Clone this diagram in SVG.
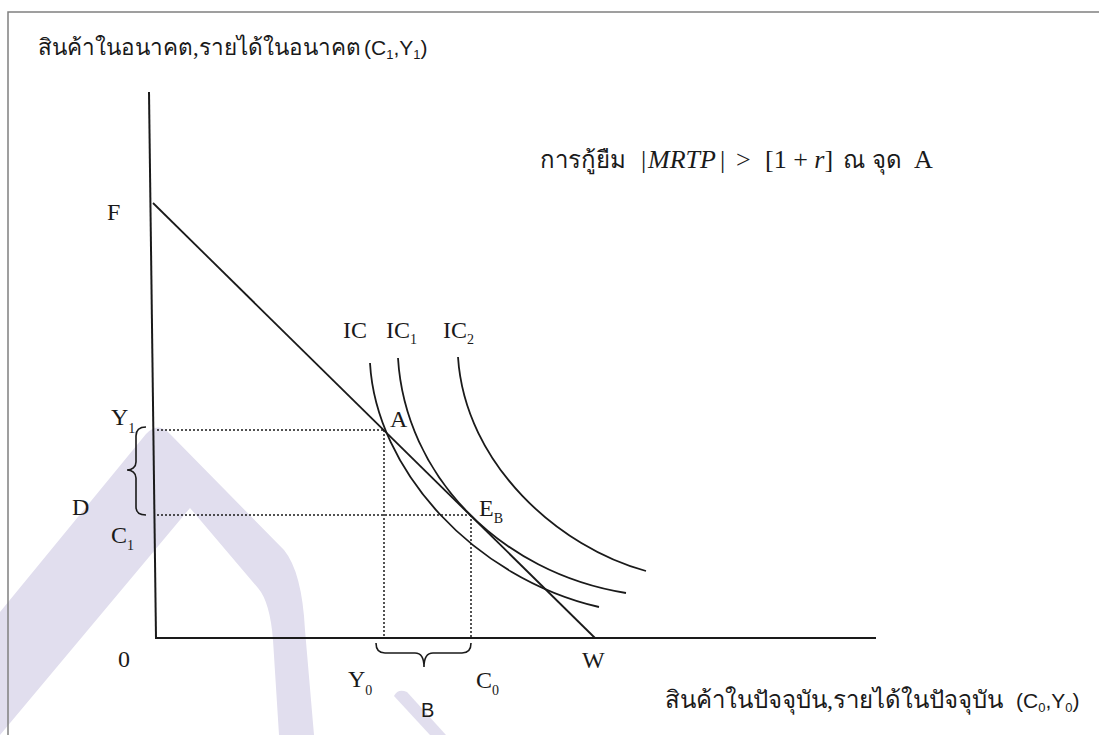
<svg xmlns="http://www.w3.org/2000/svg" width="1099" height="735" viewBox="0 0 1099 735">
<style>
.ser{font-family:"Liberation Serif",serif;font-size:24px;fill:#1a1a1a}
.sub{font-size:14px}
.th{font-family:"Liberation Serif","Noto Sans",serif;font-size:24px;fill:#1a1a1a}
.th2{font-family:"Liberation Serif","Noto Sans",serif;font-size:22.5px;fill:#1a1a1a}
.math{font-family:"Liberation Serif",serif;font-size:26px;fill:#1a1a1a}
.sans{font-family:"Liberation Sans",sans-serif;font-size:21px;fill:#1a1a1a}
.sansB{font-family:"Liberation Sans",sans-serif;font-size:20px;fill:#1a1a1a}
.ax{stroke:#1a1a1a;stroke-width:2;fill:none}
.ln{stroke:#1a1a1a;stroke-width:1.8;fill:none}
.dot{stroke:#1a1a1a;stroke-width:1.5;stroke-dasharray:2 2;fill:none}
.br{stroke:#1a1a1a;stroke-width:1.6;fill:none}
.wm{fill:#e1deee}
</style>
<rect width="1099" height="735" fill="#ffffff"/>
<g id="watermark">
<path class="wm" d="M0,612 L146,434 Q158,421 170,434 L284,550 Q302,572 305,630 L314,735 L279,735 L273,640 Q270,602 258,588 L190,508 L0,735 Z"/>
<path class="wm" d="M394,696 Q398,688 407,692 L446,735 L430,735 Z"/>
</g>
<g id="frame">
<path d="M8,735 L8,12 L1099,12" stroke="#808080" stroke-width="1.5" fill="none"/>
</g>
<g id="axes">
<path class="ax" d="M149,92 L156,638"/>
<path class="ax" d="M155,638 L876,638"/>
</g>
<g id="connectors">
<path id="budget-line" class="ln" d="M153,203 L595,638"/>
<path id="IC-curve" class="ln" d="M370,363 C376,470 474,578 599,607"/>
<path id="IC1-curve" class="ln" d="M398,358 C405,475 500,573 626,593"/>
<path id="IC2-curve" class="ln" d="M458,357 C465,465 560,548 646,571"/>
<path id="guides" class="dot" d="M157,430 L384,430 M157,515 L471,515 M384,430 L384,638 M471,515 L471,638"/>
<path id="brace-D" class="br" d="M146,427 C139,427 136,430 136,436 L136,462 C136,467 132,470 127,470 C132,470 136,473 136,478 L136,507 C136,512 139,515 146,515"/>
<path id="brace-B" class="br" d="M376,643 C376,650 379,653 385,653 L415,653 C420,653 424,657 424,667 C424,657 428,653 433,653 L462,653 C468,653 471,650 471,643"/>
</g>
<g id="title-y">
<text class="th2" x="38" y="55">สินค้าในอนาคต,รายได้ในอนาคต</text>
<text class="sans" x="364" y="55">(C<tspan font-size="13" dy="4">1</tspan><tspan dy="-4">,Y</tspan><tspan font-size="13" dy="4">1</tspan><tspan dy="-4">)</tspan></text>
</g>
<g id="title-x">
<text class="th" x="665" y="708">สินค้าในปัจจุบัน,รายได้ในปัจจุบัน</text>
<text class="sans" x="1016" y="708">(C<tspan font-size="13" dy="4">0</tspan><tspan dy="-4">,Y</tspan><tspan font-size="13" dy="4">0</tspan><tspan dy="-4">)</tspan></text>
</g>
<g id="condition">
<text class="th" x="540" y="168">การกู้ยืม</text>
<text class="math" y="168"><tspan x="641">|</tspan><tspan x="648" font-style="italic">MRTP</tspan><tspan x="720">|</tspan><tspan x="736">&gt;</tspan><tspan x="765">[1 + <tspan font-style="italic">r</tspan>]</tspan></text>
<text class="th" y="168"><tspan x="843">ณ</tspan><tspan x="872">จุด</tspan></text>
<text class="math" x="914" y="168">A</text>
</g>
<g id="node-F"><text class="ser" x="107" y="220">F</text></g>
<g id="node-Y1"><text class="ser" x="111" y="425">Y<tspan class="sub" dy="8">1</tspan></text></g>
<g id="node-D"><text class="ser" x="72" y="515">D</text></g>
<g id="node-C1"><text class="ser" x="111" y="543">C<tspan class="sub" dy="7">1</tspan></text></g>
<g id="node-0"><text class="ser" x="118" y="667">0</text></g>
<g id="node-Y0"><text class="ser" x="348" y="687">Y<tspan class="sub" dy="8">0</tspan></text></g>
<g id="node-B"><text class="sansB" x="421" y="717">B</text></g>
<g id="node-C0"><text class="ser" x="476" y="688">C<tspan class="sub" dy="7">0</tspan></text></g>
<g id="node-W"><text class="ser" x="582" y="668">W</text></g>
<g id="node-A"><text class="ser" x="390" y="427">A</text></g>
<g id="node-EB"><text class="ser" x="479" y="516">E<tspan class="sub" dy="7">B</tspan></text></g>
<g id="node-IC"><text class="ser" x="343" y="338">IC</text></g>
<g id="node-IC1"><text class="ser" x="386" y="338">IC<tspan class="sub" dy="6">1</tspan></text></g>
<g id="node-IC2"><text class="ser" x="443" y="338">IC<tspan class="sub" dy="6">2</tspan></text></g>
</svg>
